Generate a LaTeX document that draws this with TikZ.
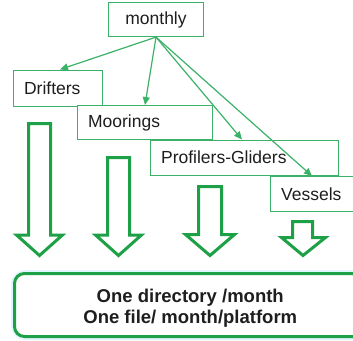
\documentclass[tikz,border=0pt]{standalone}
\usepackage{fontspec}
\setmainfont{Liberation Sans}
\usetikzlibrary{arrows.meta,calc}
\definecolor{thing}{RGB}{60,178,105}
\definecolor{thick}{RGB}{30,160,70}
\definecolor{txt}{RGB}{30,30,30}
\begin{document}
\begin{tikzpicture}[x=1pt,y=-1pt,
  box/.style={draw=thing,line width=1.2pt,fill=white,inner sep=0pt,anchor=north west,
    text=txt,font=\fontsize{17.5}{20}\selectfont},
  lbox/.style={box,inner xsep=11pt,align=left},
  conn/.style={draw=thing,line width=1.2pt,-{Triangle[length=8pt,width=7pt]}},
  blockarrow/.style={draw=thick,line width=3pt,fill=white,line join=miter}
]
\clip (0,0) rectangle (353,340);
\fill[white] (0,0) rectangle (353,340);

% boxes
\node[box,minimum width=95pt,minimum height=34pt,anchor=center] (monthly) at (156,19.5) {monthly};
\node[lbox,text width=67pt,minimum height=36pt] (drift) at (12.5,69.5) {Drifters};
\node[lbox,text width=113pt,minimum height=34pt] (moor) at (76.5,105) {Moorings};
\node[lbox,text width=166pt,minimum height=35pt] (prof) at (149.5,139.5) {Profilers-Gliders};
\node[lbox,text width=80pt,minimum height=35pt] (vess) at (269.5,176) {Vessels};

% connectors
\draw[conn] (monthly.south) -- ([xshift=47.5pt]drift.north west);
\draw[conn] (monthly.south) -- ([xshift=68.5pt]moor.north west);
\draw[conn] (monthly.south) -- ([xshift=92.5pt]prof.north west);
\draw[conn] (monthly.south) -- ([xshift=42.5pt]vess.north west);

% block arrows
\draw[blockarrow] (28.5,123.5) -- (50.5,123.5) -- (50.5,235) -- (62.5,235) -- (39.5,255.5) -- (16.5,235) -- (28.5,235) -- cycle;
\draw[blockarrow] (107.5,157.5) -- (129.5,157.5) -- (129.5,235) -- (141.5,235) -- (118.5,255.5) -- (95.5,235) -- (107.5,235) -- cycle;
\draw[blockarrow] (198.5,186.5) -- (221.5,186.5) -- (221.5,234.5) -- (234.5,234.5) -- (210,255.5) -- (185.5,234.5) -- (198.5,234.5) -- cycle;
\draw[blockarrow] (292.5,221.5) -- (312.5,221.5) -- (312.5,237.5) -- (325.5,237.5) -- (303,255.5) -- (281.5,237.5) -- (292.5,237.5) -- cycle;

% bottom box
\draw[cyan!12,line width=7pt,rounded corners=11pt] (14.5,273.5) rectangle (366,336.5);
\node[draw=thick,line width=3pt,rounded corners=10pt,fill=white,minimum width=351.5pt,minimum height=63pt,
  inner sep=0pt] (out) at (190.25,305) {};
\node[inner sep=0pt,align=center,text=txt,font=\bfseries\fontsize{18.5}{21}\selectfont] (outtext)
  at ([yshift=-3pt]out.center) {One directory /month\\One file/ month/platform};
\end{tikzpicture}
\end{document}
